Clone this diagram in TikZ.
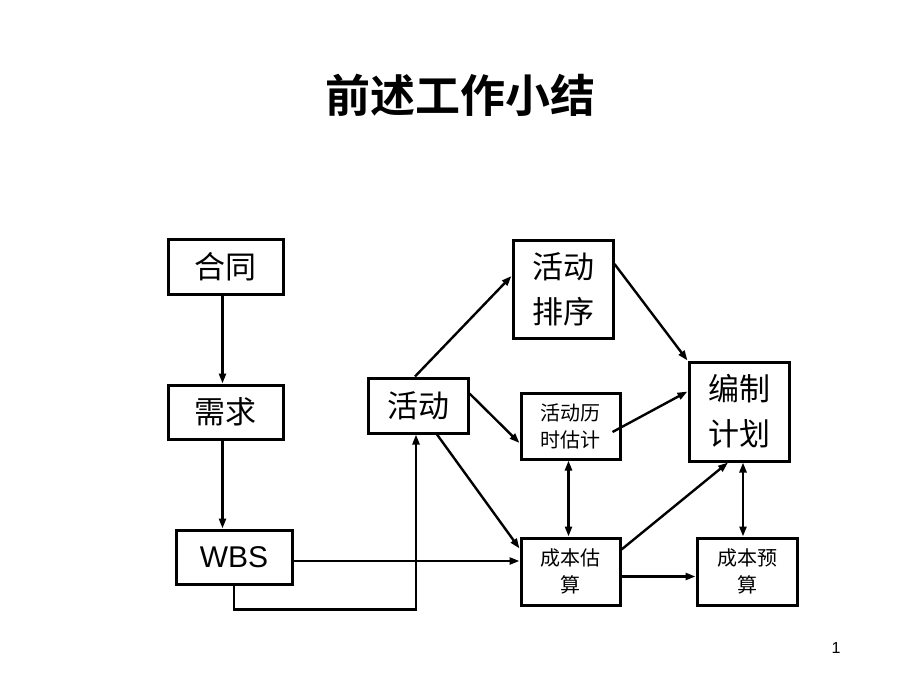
\documentclass[tikz,border=0pt]{standalone}
\usepackage{fontspec}
\setmainfont{Liberation Sans}
\newfontfamily\cjk{Noto Sans CJK SC}
\newfontfamily\cjkb{Noto Sans CJK SC Bold}
\usetikzlibrary{arrows.meta,calc}
\begin{document}
\begin{tikzpicture}[x=1pt,y=-1pt,
  box/.style={draw,line width=3pt,inner sep=0pt,align=center,anchor=center},
  big/.style={font=\cjk\fontsize{31}{45}\selectfont},
  small/.style={font=\cjk\fontsize{20}{27}\selectfont},
  conn/.style={line width=2.4pt,-{Triangle[length=10pt,width=7pt]}},
  bicon/.style={line width=2.4pt,{Triangle[length=10pt,width=7pt]}-{Triangle[length=10pt,width=7pt]}}]
\useasboundingbox[fill=white] (0,0) rectangle (920,690);
\node[font=\cjkb\fontsize{45}{48}\selectfont] (title) at (460,95) {前述工作小结};
\node[font=\fontsize{16}{18}\selectfont] (pn) at (836,648) {1};
\node[box,big,minimum width=115,minimum height=55] (hetong) at (225.5,266.5) {合同};
\node[box,big,minimum width=115,minimum height=54] (xuqiu) at (225.5,412) {需求};
\node[box,font=\fontsize{30}{34}\selectfont,minimum width=116,minimum height=54] (wbs) at (234,557) {WBS};
\node[box,big,minimum width=100,minimum height=55] (hd) at (418,405.5) {活动};
\node[box,big,minimum width=100,minimum height=98] (px) at (563,289) {活动\\排序};
\node[box,small,minimum width=99,minimum height=66] (ls) at (570.5,426) {活动历\\时估计};
\node[box,big,minimum width=100,minimum height=99] (bz) at (739,411.5) {编制\\计划};
\node[box,small,minimum width=99,minimum height=67] (cg) at (570.5,571.5) {成本估\\算};
\node[box,small,minimum width=100,minimum height=67] (cy) at (747,571.5) {成本预\\算};
\draw[conn] ($(hetong.south)+(-3,0)$) -- ($(xuqiu.north)+(-3,0)$);
\draw[conn] ($(xuqiu.south)+(-3,0)$) -- ($(xuqiu.south |- wbs.north)+(-3,0)$);
\draw[conn] ($(wbs.east)+(0,4)$) -- ($(wbs.east -| cg.west)+(0,4)$);
\draw[conn] (wbs.south) -- ++(0,24) -| ($(hd.south)+(-2,0)$);
\draw[conn] ($(hd.north)+(-3,0)$) -- ($(px.west)+(0,-13)$);
\draw[conn] ($(hd.east)+(0,-12)$) -- ($(ls.west)+(0,17)$);
\draw[conn] ($(hd.south)+(19,0)$) -- ($(cg.west)+(0,-23)$);
\draw[bicon] ($(ls.south)+(-2,0)$) -- ($(cg.north)+(-2,0)$);
\draw[conn] ($(ls.center)+(42,6)$) -- ($(bz.west)+(0,-20)$);
\draw[conn] ($(px.east)+(0,-25)$) -- (bz.north west);
\draw[conn] ($(cg.north east)+(0,13)$) -- ($(bz.south)+(-11,0)$);
\draw[conn] ($(cg.east)+(0,5)$) -- ($(cy.west)+(0,5)$);
\draw[bicon] ($(bz.south)+(4,0)$) -- ($(cy.north)+(-4,0)$);
\end{tikzpicture}
\end{document}
